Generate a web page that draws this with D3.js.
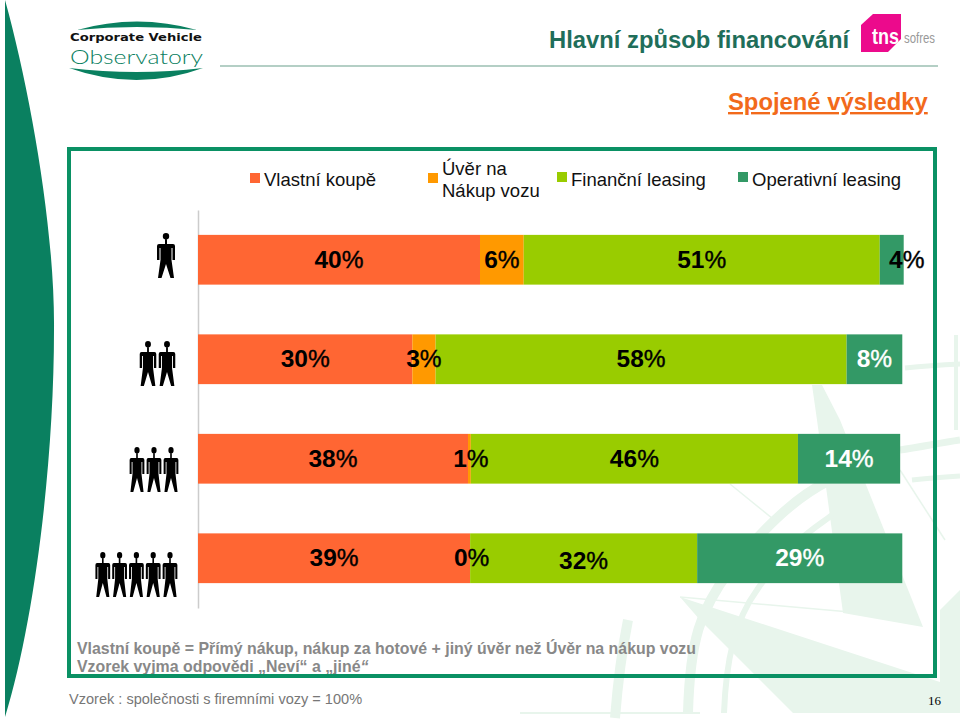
<!DOCTYPE html>
<html lang="cs">
<head>
  <meta charset="UTF-8">
  <title>Hlavní způsob financování</title>
  <script src="https://d3js.org/d3.v7.min.js"></script>
  <style>
    body { margin: 0; background: #fff; }
    svg { display: block; font-family: "Liberation Sans", Arial, sans-serif; }
  </style>
</head>
<body>
  <svg id="chart" width="960" height="720"></svg>

  <script>
    // Data (bar lengths in %, labels as printed)
    const seriesNames = ["Vlastní koupě", "Úvěr na|Nákup vozu", "Finanční leasing", "Operativní leasing"];
    const fleetSizes = [1, 2, 3, 5];
    const ownPurchase = [40, 30.4, 38.3, 38.6];
    const purchaseLoan = [6.2, 3.3, 0.4, 0];
    const financeLease = [50.5, 58.3, 46.4, 32.2];
    const operatingLease = [3.4, 7.9, 14.5, 29.1];
    const ownLabels = ["40%", "30%", "38%", "39%"];
    const loanLabels = ["6%", "3%", "1%", "0%"];
    const financeLabels = ["51%", "58%", "46%", "32%"];
    const operatingLabels = ["4%", "8%", "14%", "29%"];

    const colors = ["#ff6633", "#ff9900", "#99cc00", "#339966"];
    const allValues = [ownPurchase, purchaseLoan, financeLease, operatingLease];
    const allLabels = [ownLabels, loanLabels, financeLabels, operatingLabels];

    const svg = d3.select("#chart");

    // Pale watermark behind everything
    const wm = svg.append("g").attr("id", "watermark");
    const paleBlades = [
      "M812,385 L822,385 L840,420 L923,627 L843,613 L817,420 Z",
      "M680,597 L940,682 L940,713 L793,713 L700,620 Z",
      "M940,610 L960,590 L960,713 L940,713 Z"
    ];
    wm.selectAll("path.blade").data(paleBlades).enter().append("path")
      .attr("class", "blade").attr("d", d => d).attr("fill", "#e8f5ec");
    const paleArcs = [
      ["M688,713 C690,640 700,610 730,570 C770,520 800,495 830,480", 10],
      ["M724,713 C726,660 735,620 757,590 C790,540 820,525 832,515", 6],
      ["M615,718 C618,680 622,650 628,620", 10],
      ["M900,450 C920,447 940,443 960,440", 7],
      ["M912,480 C930,478 945,477 960,476", 5],
      ["M905,368 C925,366 940,365 960,364", 5],
      ["M730,484 L778,523", 1.5],
      ["M900,470 L945,540", 1.5],
      ["M680,597 L850,612", 1.5],
      ["M956,335 L956,430", 4],
      ["M520,713 L700,713", 2]
    ];
    wm.selectAll("path.arc").data(paleArcs).enter().append("path")
      .attr("class", "arc").attr("d", d => d[0]).attr("fill", "none")
      .attr("stroke", "#e8f5ec").attr("stroke-width", d => d[1]);

    // Green leaf on the left edge
    svg.append("path")
      .attr("d", "M5,0 C30,90 55,230 54,330 C54,460 35,620 5,717 Z")
      .attr("fill", "#0a8060");

    // Corporate Vehicle Observatory logo
    svg.append("path").attr("d", "M77,30 Q137,13 197,30 Q137,24 77,30 Z").attr("fill", "#0a8060");
    svg.append("path").attr("d", "M69,68 Q137,92 203,68 Q137,76 69,68 Z").attr("fill", "#0a8060");
    svg.append("text").attr("x", 70).attr("y", 41)
      .attr("textLength", 132).attr("lengthAdjust", "spacingAndGlyphs")
      .style("font-family", "'DejaVu Sans'").style("font-weight", 700).style("font-size", "11px")
      .attr("fill", "#111").text("Corporate Vehicle");
    svg.append("text").attr("x", 70).attr("y", 64)
      .attr("textLength", 133).attr("lengthAdjust", "spacingAndGlyphs")
      .style("font-family", "Lato").style("font-weight", 300).style("font-size", "20px")
      .attr("fill", "#0a8060").text("Observatory");

    // TNS logo
    svg.append("path").attr("d", "M873,14 L901,14 L901,39 L888,52 L861,52 L861,25 Z").attr("fill", "#ec0a8c");
    svg.append("text").attr("x", 872).attr("y", 44)
      .attr("textLength", 27).attr("lengthAdjust", "spacingAndGlyphs")
      .style("font-weight", 700).style("font-size", "22px").attr("fill", "#fff").text("tns");
    svg.append("text").attr("x", 904).attr("y", 43)
      .attr("textLength", 31).attr("lengthAdjust", "spacingAndGlyphs")
      .style("font-size", "14px").attr("fill", "#999").text("sofres");

    // Header
    svg.append("line").attr("x1", 220).attr("x2", 938).attr("y1", 66).attr("y2", 66)
      .attr("stroke", "#6a9f8c").attr("stroke-width", 1.2);
    svg.append("text").attr("x", 549).attr("y", 48)
      .style("font-weight", 700).style("font-size", "23.8px").attr("fill", "#1f6e5a")
      .text("Hlavní způsob financování");
    svg.append("text").attr("x", 728).attr("y", 110)
      .style("font-weight", 700).style("font-size", "23.8px").style("text-decoration", "underline")
      .attr("fill", "#f26a1b").text("Spojené výsledky");

    // Legend
    const legendX = [250, 428, 557, 738];
    const legend = svg.append("g").selectAll("g").data(seriesNames).enter().append("g")
      .attr("transform", (d, i) => "translate(" + legendX[i] + ",0)");
    legend.append("rect").attr("y", (d, i) => i < 2 ? 173 : 172).attr("width", 10).attr("height", 10)
      .attr("fill", (d, i) => colors[i]);
    legend.each(function(d) {
      const lines = d.split("|");
      d3.select(this).selectAll("text").data(lines).enter().append("text")
        .attr("x", 14)
        .attr("y", (l, j) => lines.length > 1 ? 175 + j * 22 : 186)
        .style("font-size", "18.5px").attr("fill", "#111").text(l => l);
    });

    // Scales and stacked bars
    const x = d3.scaleLinear().domain([0, 100]).range([198, 903]);
    const y = d3.scaleBand().domain(fleetSizes).range([210, 608]).paddingInner(0.5).paddingOuter(0.25);

    svg.append("g")
      .attr("transform", "translate(198,0)")
      .call(d3.axisLeft(y).tickSize(0).tickFormat(""))
      .call(g => g.select(".domain").attr("stroke", "#cccccc").attr("stroke-width", 1.5));

    fleetSizes.forEach(function(size, row) {
      let start = 0;
      allValues.forEach(function(values, s) {
        const v = values[row];
        svg.append("rect")
          .attr("x", x(start))
          .attr("y", y(size))
          .attr("width", x(start + v) - x(start))
          .attr("height", y.bandwidth())
          .attr("fill", colors[s]);
        start += v;
      });
    });

    // Value labels go on top of all bars
    fleetSizes.forEach(function(size, row) {
      let start = 0;
      allValues.forEach(function(values, s) {
        const v = values[row];
        const label = allLabels[s][row];
        let nudge = 0;
        if (label === "4%") nudge = 15;
        if (label === "1%" || label === "0%") nudge = 1.5;
        const white = s === 3 && label !== "4%";
        const t = svg.append("text")
          .attr("x", x(start + v / 2) + nudge)
          .attr("y", y(size) + y.bandwidth() / 2 + (label === "32%" ? 11 : 8))
          .attr("text-anchor", "middle")
          .style("font-size", "24.5px")
          .attr("fill", white ? "#fff" : "#000");
        t.append("tspan").style("font-weight", 700).text(label.replace("%", ""));
        t.append("tspan").style("font-weight", 400)
          .attr("stroke", white ? "#fff" : "#000").attr("stroke-width", 0.4).text("%");
        start += v;
      });
    });

    // Little people for fleet size
    const personPath = "M-3.2,3.2 A3.2,3.2 0 1 1 3.2,3.2 A3.2,3.2 0 1 1 -3.2,3.2 Z " +
      "M-1,6 H1 V11 H7 Q9,11 9,13 V27 H6.5 V15 H5.5 V27 L8,45 H4.5 L0,31 L-4.5,45 H-8 L-5.5,27 V15 H-6.5 V27 H-9 V13 Q-9,11 -7,11 H-1 Z";
    const iconRight = [166, 167, 171, 170];
    const iconStep = [0, 19, 17, 16.8];
    const iconScale = [1, 0.92, 0.82, 0.82];
    const iconTop = [233, 341, 447, 552];
    fleetSizes.forEach(function(size, row) {
      svg.append("g").selectAll("path").data(d3.range(size)).enter().append("path")
        .attr("d", personPath)
        .attr("transform", i => "translate(" + (iconRight[row] - i * iconStep[row]) + "," + iconTop[row] + ") scale(" + iconScale[row] + ",1)")
        .attr("fill", "#000");
    });

    // Notes
    const notes = svg.append("g").attr("fill", "#888").style("font-weight", 700).style("font-size", "15.9px");
    notes.append("text").attr("x", 77).attr("y", 654)
      .text("Vlastní koupě = Přímý nákup, nákup za hotové + jiný úvěr než Úvěr na nákup vozu");
    const note2 = notes.append("text").attr("x", 77).attr("y", 672);
    note2.append("tspan").text("Vzorek vyjma odpovědi „Neví“ a „jiné");
    note2.append("tspan").style("font-style", "italic").text("“");

    // Frame
    svg.append("rect").attr("x", 69).attr("y", 149).attr("width", 866).attr("height", 527)
      .attr("fill", "none").attr("stroke", "#0a9164").attr("stroke-width", 4);

    svg.append("text").attr("x", 69).attr("y", 704)
      .style("font-size", "14.55px").attr("fill", "#777")
      .text("Vzorek : společnosti s firemními vozy = 100%");
    svg.append("text").attr("x", 928).attr("y", 705)
      .style("font-family", "'Liberation Serif'").style("font-size", "13px").attr("fill", "#000")
      .text("16");
  </script>
</body>
</html>
